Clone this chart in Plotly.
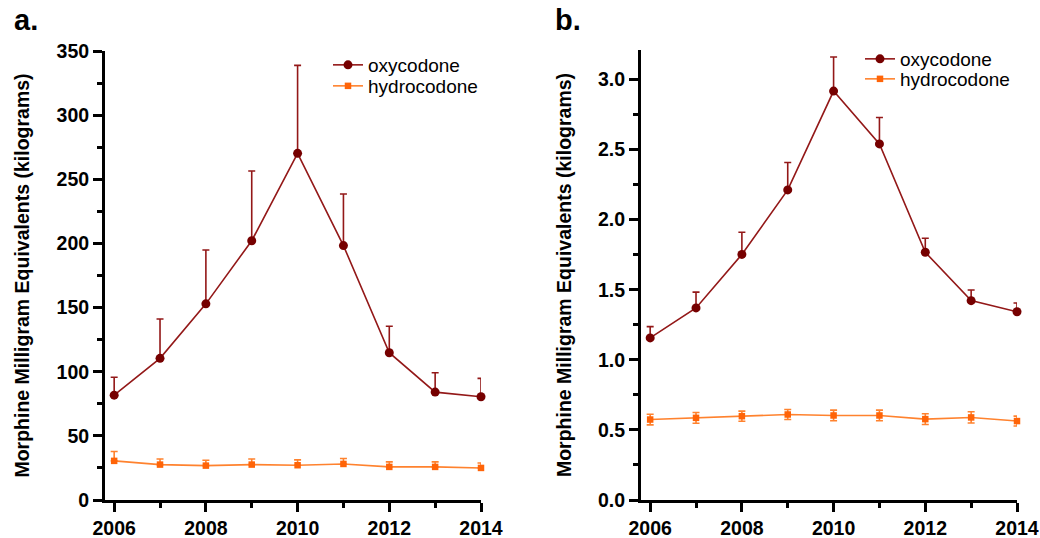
import plotly.graph_objects as go

years = [2006, 2007, 2008, 2009, 2010, 2011, 2012, 2013, 2014]

# Panel a (kilograms)
oxy_a = [81.7, 110.4, 152.9, 202.1, 270.2, 198.3, 114.8, 84.1, 80.5]
oxy_a_err = [14.0, 30.7, 42.0, 54.4, 68.6, 40.2, 20.6, 15.1, 14.3]
hyd_a = [30.5, 27.6, 26.8, 27.6, 27.1, 28.1, 25.8, 25.8, 25.0]
hyd_a_err = [7.3, 4.4, 4.2, 4.4, 4.2, 4.2, 3.9, 3.9, 3.9]

# Panel b (kilograms)
oxy_b = [1.156, 1.370, 1.752, 2.212, 2.917, 2.540, 1.767, 1.422, 1.343]
oxy_b_err = [0.081, 0.113, 0.158, 0.195, 0.243, 0.189, 0.100, 0.076, 0.062]
hyd_b = [0.574, 0.586, 0.598, 0.610, 0.603, 0.603, 0.577, 0.589, 0.563]
hyd_b_err = [0.038, 0.038, 0.036, 0.036, 0.038, 0.038, 0.038, 0.040, 0.035]

x_labels = ["2006", "2008", "2010", "2012", "2014"]
x_label_vals = [2006, 2008, 2010, 2012, 2014]
series_names = ["oxycodone", "hydrocodone"]

OXY_M = "#760000"
OXY_L = "#931818"
HYD_M = "#ff6408"
HYD_L = "#ff822e"
FONT = "Liberation Sans, Arial, Helvetica, sans-serif"

W, H = 1040, 538

fig = go.Figure()

def add_pair(xaxis, yaxis, legs, oxy, oxy_err, hyd, hyd_err, hyd_sym):
    fig.add_trace(go.Scatter(
        x=years, y=oxy, name=series_names[0], mode="lines+markers",
        xaxis=xaxis, yaxis=yaxis, legend=legs[0], cliponaxis=False,
        showlegend=True,
        line=dict(color=OXY_L, width=1.6),
        marker=dict(symbol="circle", size=9, color=OXY_M),
        error_y=dict(type="data", array=oxy_err, arrayminus=[0] * len(oxy_err),
                     symmetric=False, color=OXY_L, thickness=1.6, width=3.5),
    ))
    if hyd_sym:
        ey = dict(type="data", array=hyd_err, symmetric=True,
                  color=HYD_L, thickness=1.6, width=3.5)
    else:
        ey = dict(type="data", array=hyd_err, arrayminus=[0] * len(hyd_err),
                  symmetric=False, color=HYD_L, thickness=1.6, width=3.5)
    fig.add_trace(go.Scatter(
        x=years, y=hyd, name=series_names[1], mode="lines+markers",
        xaxis=xaxis, yaxis=yaxis, legend=legs[1], cliponaxis=False,
        showlegend=True,
        line=dict(color=HYD_L, width=1.6),
        marker=dict(symbol="square", size=6.5, color=HYD_M),
        error_y=ey,
    ))

add_pair("x", "y", ("legend", "legend2"), oxy_a, oxy_a_err, hyd_a, hyd_a_err, False)
add_pair("x2", "y2", ("legend3", "legend4"), oxy_b, oxy_b_err, hyd_b, hyd_b_err, True)

axis_common = dict(
    showline=True, linecolor="black", linewidth=3, mirror=False,
    showgrid=False, zeroline=False, automargin=False,
    ticks="outside", ticklen=9, tickwidth=2.5, tickcolor="black",
    tickfont=dict(family=FONT, size=19.5, color="black", weight="bold"),
)

xcommon = dict(axis_common,
               range=[2005.8, 2014], tickvals=x_label_vals, ticktext=x_labels,
               minor=dict(tick0=2006, dtick=1, ticks="outside", ticklen=5,
                          tickwidth=2.5, tickcolor="black"))

ytitle = dict(text="Morphine Milligram Equivalents (kilograms)",
              font=dict(family=FONT, size=19.5, color="black", weight="bold"),
              standoff=22)

ybot = 1 - 500 / H

def leg(px, py):
    return dict(x=px / W, y=1 - py / H, xanchor="left", yanchor="middle",
                bgcolor="rgba(0,0,0,0)", borderwidth=0, visible=True,
                font=dict(family=FONT, size=19, color="black"))

fig.update_layout(
    width=W, height=H,
    showlegend=True,
    margin=dict(l=0, r=0, t=0, b=0),
    paper_bgcolor="white", plot_bgcolor="white",
    font=dict(family=FONT, color="black"),
    xaxis=dict(xcommon, domain=[105 / W, 481 / W], anchor="y"),
    yaxis=dict(axis_common, domain=[ybot, 1 - 51 / H], anchor="x",
               range=[0, 350], tick0=0, dtick=50,
               minor=dict(tick0=0, dtick=25, ticks="outside", ticklen=5,
                          tickwidth=2.5, tickcolor="black"),
               title=ytitle),
    xaxis2=dict(xcommon, domain=[641 / W, 1017 / W], anchor="y2"),
    yaxis2=dict(axis_common, domain=[ybot, 1 - 50 / H], anchor="x2",
                range=[0, 3.21], tick0=0, dtick=0.5, tickformat=".1f",
                minor=dict(tick0=0, dtick=0.25, ticks="outside", ticklen=5,
                           tickwidth=2.5, tickcolor="black"),
                title=ytitle),
    legend=leg(328, 65),
    legend2=leg(328, 86),
    legend3=leg(860, 59),
    legend4=leg(860, 79),
    annotations=[
        dict(text="a.", xref="paper", yref="paper", x=12 / W, y=1 - 2 / H,
             xanchor="left", yanchor="top", showarrow=False,
             font=dict(family=FONT, size=29, color="black", weight="bold")),
        dict(text="b.", xref="paper", yref="paper", x=553 / W, y=1 - 2 / H,
             xanchor="left", yanchor="top", showarrow=False,
             font=dict(family=FONT, size=29, color="black", weight="bold")),
    ],
)

fig.write_html("out.html")
